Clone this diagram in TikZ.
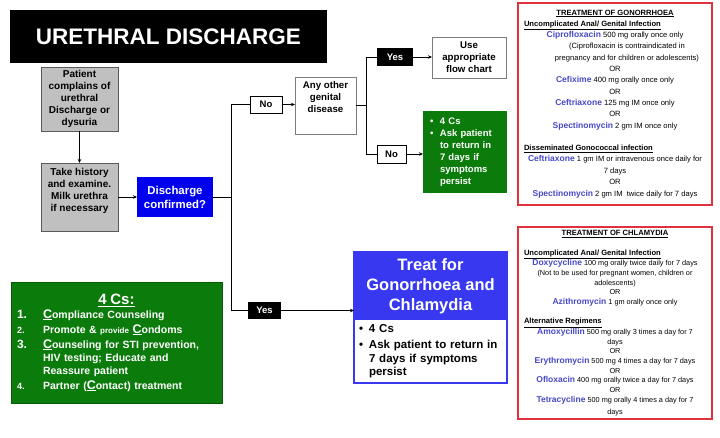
\documentclass[tikz,border=0pt]{standalone}
\usepackage{fontspec}
\setmainfont{Liberation Sans}
\usetikzlibrary{arrows.meta, positioning}
\definecolor{boxGray}{HTML}{C0C0C0}
\definecolor{edgeGray}{HTML}{5A5A5A}
\definecolor{discBlue}{HTML}{0000EE}
\definecolor{treatBlue}{HTML}{3838F0}
\definecolor{csGreen}{HTML}{0B7C0B}
\definecolor{csGreenDark}{HTML}{075A07}
\definecolor{rxRed}{HTML}{E0323C}
\definecolor{drugBlue}{HTML}{4848C8}
\newcommand{\drug}[1]{{\fontsize{8.5}{10}\selectfont\bfseries\color{drugBlue}#1}}
\newcommand{\bigC}{\underline{\fontsize{12.5}{13}\selectfont C}}
\newcommand{\blt}{\makebox[10pt][l]{\textbullet}}
\newcommand{\bind}{\hspace*{10pt}}

\begin{document}
\begin{tikzpicture}[
  x=1pt, y=-1pt,
  >={Stealth[length=4pt, width=3.5pt]},
  every node/.style={outer sep=0pt},
  every path/.style={line width=0.9pt},
  titlebox/.style={fill=black, text=white, inner sep=0pt,
               font=\fontsize{22.5}{27}\selectfont\bfseries,
               minimum width=317pt, minimum height=53pt},
  graybox/.style={draw=edgeGray, fill=boxGray, align=center, inner sep=1pt,
               font=\fontsize{10}{12}\selectfont\bfseries,
               minimum width=77pt, minimum height=64pt},
  discbox/.style={fill=discBlue, text=white, align=center, inner sep=1pt,
               font=\fontsize{11.4}{14}\selectfont\bfseries,
               minimum width=76pt, minimum height=40pt},
  whitebox/.style={draw=edgeGray!80, fill=white, align=center, inner sep=1pt,
               font=\fontsize{9.7}{12}\selectfont\bfseries,
               minimum width=61pt, minimum height=57pt},
  nobox/.style={draw=black, fill=white, inner sep=0pt,
               font=\fontsize{9.5}{11}\selectfont\bfseries,
               minimum width=32pt, minimum height=17pt},
  yesbox/.style={fill=black, text=white, inner sep=0pt,
               font=\fontsize{9.5}{11}\selectfont\bfseries,
               minimum width=36pt, minimum height=18pt},
  carebox/.style={fill=csGreen, text=white, align=left, inner xsep=7pt,
               text width=70pt, minimum height=82pt,
               font=\fontsize{9.5}{12}\selectfont\bfseries},
  treathead/.style={fill=treatBlue, text=white, align=center, inner sep=0pt,
               font=\fontsize{16.5}{20}\selectfont\bfseries,
               minimum width=153pt, minimum height=68pt},
  treatbody/.style={fill=white, align=left, inner xsep=5pt,
               text width=143pt, minimum height=63pt,
               font=\fontsize{11.5}{13.5}\selectfont\bfseries},
  csbox/.style={fill=csGreen, draw=csGreenDark, text=white, align=left,
               inner xsep=6pt, text width=199pt, minimum height=121pt,
               font=\fontsize{10.5}{13}\selectfont\bfseries},
  rxbox/.style={draw=rxRed, line width=1.3pt, fill=white, align=flush center,
               inner xsep=4pt, text width=186pt, minimum width=194pt},
]
\useasboundingbox (0,0) rectangle (720,437);

% title and left column
\node[titlebox] (title) at (168.5,36.5) {URETHRAL DISCHARGE};
\node[graybox] (patient) at (79.5,99)
  {Patient\\complains of\\urethral\\Discharge or\\dysuria};
\node[graybox, minimum height=68pt, text depth=14pt] (history) at (79.5,197)
  {Take history\\and examine.\\Milk urethra\\if necessary};
\node[discbox] (confirm) at (175,197) {Discharge\\confirmed?};

% branch: no discharge
\node[nobox] (no1) at (266,104.5) {No};
\node[whitebox, text depth=18pt] (other) at (325.5,105.5)
  {Any other\\genital\\disease};
\node[yesbox] (yes1) at (395,57) {Yes};
\node[whitebox, minimum width=74pt, minimum height=41pt] (flow) at (469,57.5)
  {Use\\appropriate\\flow chart};
\node[nobox, minimum width=29pt, minimum height=18pt] (no2) at (391.5,154) {No};
\node[carebox] (care) at (465,152)
  {\blt 4 Cs\\ \blt Ask patient\\ \bind to return in\\ \bind 7 days if\\
   \bind symptoms\\ \bind persist};

% branch: discharge confirmed
\node[yesbox, minimum width=33pt, minimum height=17pt] (yes2) at (264.5,310.5) {Yes};
\node[treathead] (treat) at (430.5,286) {Treat for\\Gonorrhoea and\\Chlamydia};
\node[treatbody, below=0pt of treat] (treatnote)
  {\blt 4 Cs\\[2.5pt] \blt Ask patient to return in\\ \bind 7 days if symptoms\\
   \bind persist};
\draw[treatBlue, line width=1.5pt] (treat.north west) rectangle (treatnote.south east);

% the 4 Cs
\node[csbox] (fourcs) at (116.5,342.5) {%
  \makebox[199pt][c]{\fontsize{15}{16}\selectfont\underline{4 Cs:}}\\[1pt]
  \makebox[26pt][l]{\fontsize{12}{12}\selectfont 1.}\bigC ompliance Counseling\\[2pt]
  \makebox[26pt][l]{\fontsize{9}{9}\selectfont 2.}Promote \&
    {\fontsize{8}{8}\selectfont provide} \bigC ondoms\\[2pt]
  \makebox[26pt][l]{\fontsize{12}{12}\selectfont 3.}\bigC ounseling for STI prevention,\\
  \hspace*{26pt}HIV testing; Educate and\\
  \hspace*{26pt}Reassure patient\\[2pt]
  \makebox[26pt][l]{\fontsize{9}{9}\selectfont 4.}Partner (\bigC ontact) treatment};

% treatment tables
\node[rxbox, minimum height=202pt] (gono) at (615,104) {%
  \fontsize{7.6}{11.3}\selectfont
  \textbf{\underline{TREATMENT OF GONORRHOEA}}\\
  \makebox[186pt][l]{\hspace*{2pt}\textbf{\underline{Uncomplicated Anal/ Genital Infection}}}\\
  \drug{Ciprofloxacin} 500 mg orally once only\\
  \hspace*{24pt}(Ciprofloxacin is contraindicated in\\
  \hspace*{24pt}pregnancy and for children or adolescents)\\
  OR\\
  \drug{Cefixime} 400 mg orally once only\\
  OR\\
  \drug{Ceftriaxone} 125 mg IM once only\\
  OR\\
  \drug{Spectinomycin} 2 gm IM once only\\[11.3pt]
  \makebox[186pt][l]{\hspace*{2pt}\textbf{\underline{Disseminated Gonococcal infection}}}\\
  \drug{Ceftriaxone} 1 gm IM or intravenous once daily for\\
  7 days\\
  OR\\
  \drug{Spectinomycin} 2 gm IM\ \ twice daily for 7 days};
\node[rxbox, minimum height=192pt] (chlam) at (615,323) {%
  \fontsize{7.3}{9.65}\selectfont
  {\fontsize{7.6}{9.65}\selectfont\textbf{\underline{TREATMENT OF CHLAMYDIA}}}\\[9.65pt]
  \makebox[186pt][l]{\hspace*{2pt}\fontsize{7.6}{9.65}\selectfont\textbf{\underline{Uncomplicated Anal/ Genital Infection}}}\\
  \drug{Doxycycline} 100 mg orally twice daily for 7 days\\
  (Not to be used for pregnant women, children or\\
  adolescents)\\
  OR\\
  \drug{Azithromycin} 1 gm orally once only\\[9.65pt]
  \makebox[186pt][l]{\hspace*{2pt}\fontsize{7.6}{9.65}\selectfont\textbf{\underline{Alternative Regimens}}}\\
  \drug{Amoxycillin} 500 mg orally 3 times a day for 7\\
  days\\
  OR\\
  \drug{Erythromycin} 500 mg 4 times a day for 7 days\\
  OR\\
  \drug{Ofloxacin} 400 mg orally twice a day for 7 days\\
  OR\\
  \drug{Tetracycline} 500 mg orally 4 times a day for 7\\
  days};

% connectors
\coordinate (split) at (231,197);
\coordinate (fork) at (366,105.5);
\draw[->] (patient) -- (history);
\draw[->] (history) -- (confirm);
\draw (confirm) -- (split);
\draw (split) |- (no1);
\draw[->] (no1.east) -- (no1.east -| other.west);
\draw (split) |- (yes2);
\draw[->] (yes2.east) -- (yes2.east -| treat.west);
\draw (other) -- (fork);
\draw (fork) |- (yes1);
\draw[->] (yes1.east) -- (yes1.east -| flow.west);
\draw (fork) |- (no2);
\draw[->] (no2.east) -- (no2.east -| care.west);

\end{tikzpicture}
\end{document}
